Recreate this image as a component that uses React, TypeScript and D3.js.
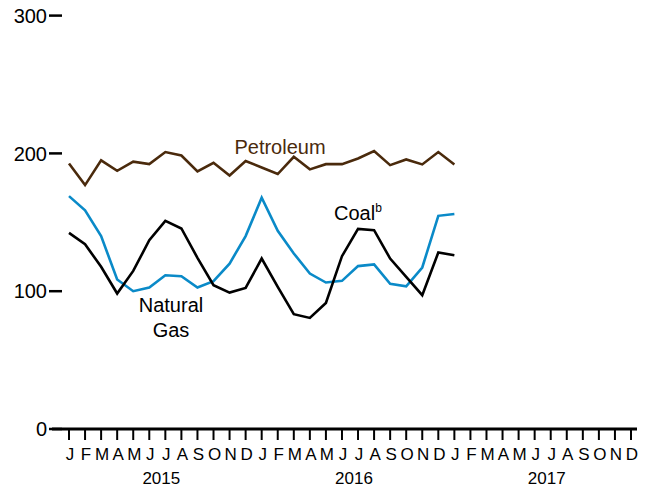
import React from "react";
import * as d3 from "d3";

const monthLabels = ["J","F","M","A","M","J","J","A","S","O","N","D"];
const years = ["2015", "2016", "2017"];
const yTicks = [0, 100, 200, 300];

// Jan 2015 .. Jan 2017 (25 months)
const petroleum = [192.7,177,195,187.4,194,192.2,201,198.5,187,193.2,184,194.4,189.8,185,197.5,188.4,192.2,192.2,196.3,201.7,191.5,195.6,192,201,192];
const naturalGasBlue = [169,158.7,140,108.5,100,102.7,111.6,110.9,102.7,107.3,120,140,167.8,143.8,127.4,112.8,106.3,107.5,118.2,119.4,105.3,103.6,117.2,154.7,156];
const coalBlack = [142.3,134.1,117.7,98.3,114.7,137,151,145.5,124.2,104.4,99,102.4,123.7,103.1,83.3,80.6,91.5,125.4,145.2,144.3,123.7,110.4,97.1,128.1,126.1];

const series = [
  { values: petroleum, color: "#4a2a0c" },
  { values: naturalGasBlue, color: "#0a8ac8" },
  { values: coalBlack, color: "#000000" },
];

const W = 647, H = 489;
const FONT = "'Liberation Sans', Arial, sans-serif";

export default function App() {
  const x = d3.scaleLinear().domain([0, 35]).range([69, 631]);
  const y = d3.scaleLinear().domain([0, 300]).range([429, 15.6]);
  const line = d3.line<number>().x((_, i) => x(i)).y((d) => y(d));
  const months = d3.range(36);

  return (
    <svg width={W} height={H} style={{ position: "absolute", left: 0, top: 0, background: "#fff" }} fontFamily={FONT}>
      {yTicks.map((t) => (
        <g key={t}>
          <line x1={49} x2={62} y1={y(t)} y2={y(t)} stroke="#000" strokeWidth={2.5} />
          <text x={47} y={y(t)} dy="0.36em" textAnchor="end" fontSize={20} fill="#000">{t}</text>
        </g>
      ))}
      <line x1={52} x2={637} y1={y(0)} y2={y(0)} stroke="#000" strokeWidth={2.8} />
      {months.map((m) => (
        <g key={m}>
          <line x1={x(m)} x2={x(m)} y1={y(0)} y2={y(0) + 11} stroke="#000" strokeWidth={2} />
          <text x={x(m) + 1} y={460} textAnchor="middle" fontSize={17} fill="#000">{monthLabels[m % 12]}</text>
        </g>
      ))}
      {years.map((yr, i) => (
        <text key={yr} x={(x(i * 12) + x(i * 12 + 11)) / 2 + 4} y={484} textAnchor="middle" fontSize={17} fill="#000">{yr}</text>
      ))}
      {series.map((s, i) => (
        <path key={i} d={line(s.values) || ""} fill="none" stroke={s.color} strokeWidth={2.6} strokeLinejoin="miter" />
      ))}
      <text x={280} y={154} textAnchor="middle" fontSize={20} fill="#4a2a0c">Petroleum</text>
      <text x={334} y={220} fontSize={20} fill="#000">Coal<tspan fontSize={12} dy={-8}>b</tspan></text>
      <text x={171} y={312} textAnchor="middle" fontSize={20} fill="#000">Natural</text>
      <text x={171} y={337} textAnchor="middle" fontSize={20} fill="#000">Gas</text>
    </svg>
  );
}
